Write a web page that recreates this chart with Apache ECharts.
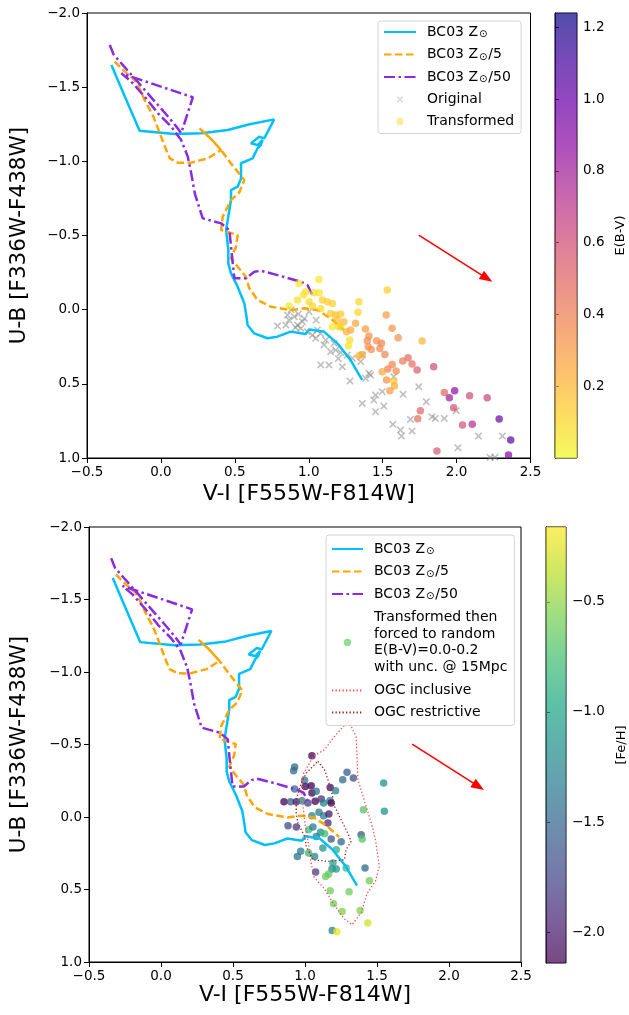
<!DOCTYPE html>
<html><head><meta charset="utf-8">
<script src="https://cdn.jsdelivr.net/npm/echarts@6/dist/echarts.min.js"></script>
<style>html,body{margin:0;padding:0;background:#fff}#c{width:629px;height:1015px}</style>
</head><body><div id="c"></div>
<script>
// ---------- data ----------
const xTicks = [-0.5, 0.0, 0.5, 1.0, 1.5, 2.0, 2.5];
const yTicks = [-2.0, -1.5, -1.0, -0.5, 0.0, 0.5, 1.0];
const ebvRange = [0.0, 1.24];
const ebvTicks = [0.2, 0.4, 0.6, 0.8, 1.0, 1.2];
const fehRange = [-2.14, -0.16];
const fehTicks = [-2.0, -1.5, -1.0, -0.5];

const trackSolar = [[-0.335,-1.649],[-0.25,-1.45],[-0.144,-1.206],[0.092,-1.184],[0.272,-1.189],[0.452,-1.211],[0.60,-1.25],[0.766,-1.283],[0.699,-1.155],[0.665,-1.166],[0.609,-1.121],[0.654,-1.110],[0.688,-1.144],[0.675,-1.11],[0.654,-1.088],[0.62,-1.02],[0.542,-0.987],[0.542,-0.885],[0.519,-0.829],[0.474,-0.806],[0.474,-0.739],[0.452,-0.604],[0.441,-0.537],[0.456,-0.402],[0.456,-0.312],[0.474,-0.245],[0.519,-0.155],[0.564,-0.043],[0.579,0.047],[0.586,0.103],[0.631,0.160],[0.721,0.193],[0.788,0.182],[0.878,0.148],[0.979,0.164],[1.002,0.133],[1.103,0.148],[1.193,0.227],[1.283,0.340],[1.361,0.474]];
const trackFifth = [[-0.313,-1.672],[-0.25,-1.61],[-0.178,-1.548],[-0.14,-1.48],[-0.11,-1.413],[-0.05,-1.30],[0.0,-1.17],[0.036,-1.076],[0.06,-1.02],[0.115,-0.991],[0.20,-0.99],[0.317,-1.020],[0.407,-1.076],[0.33,-1.16],[0.261,-1.222],[0.33,-1.16],[0.407,-1.076],[0.474,-0.986],[0.564,-0.874],[0.53,-0.79],[0.474,-0.739],[0.418,-0.627],[0.407,-0.537],[0.519,-0.503],[0.508,-0.424],[0.474,-0.346],[0.519,-0.289],[0.575,-0.222],[0.598,-0.144],[0.654,-0.065],[0.744,-0.020],[0.879,0.003],[0.969,-0.009],[1.059,0.003],[1.149,0.059],[1.238,0.138]];
const trackFiftieth = [[-0.346,-1.784],[-0.32,-1.72],[-0.25,-1.64],[-0.178,-1.56],[-0.10,-1.47],[-0.02,-1.38],[0.05,-1.30],[0.10,-1.24],[0.137,-1.19],[0.216,-1.432],[-0.267,-1.593],[-0.20,-1.537],[-0.11,-1.436],[-0.02,-1.324],[0.07,-1.233],[0.137,-1.144],[0.182,-1.031],[0.205,-0.919],[0.23,-0.78],[0.283,-0.616],[0.407,-0.582],[0.463,-0.537],[0.486,-0.312],[0.497,-0.211],[0.575,-0.211],[0.632,-0.256],[0.677,-0.262],[0.789,-0.233],[0.946,-0.188],[0.991,-0.166],[1.025,-0.099]];

const originalPts = [[0.789,0.110],[0.856,0.036],[0.867,0.070],[0.901,0.047],[0.845,0.104],[0.924,0.104],[0.946,0.126],[1.002,0.014],[0.957,0.081],[0.991,0.149],[1.025,0.171],[1.047,0.193],[1.058,0.137],[1.115,0.205],[1.103,0.238],[1.148,0.284],[1.182,0.272],[1.216,0.290],[1.171,0.227],[1.261,0.306],[1.295,0.328],[1.362,0.306],[1.081,0.373],[1.137,0.373],[1.227,0.385],[1.351,0.351],[1.407,0.429],[1.384,0.463],[1.279,0.481],[1.575,0.452],[1.744,0.519],[1.418,0.441],[1.638,0.571],[1.795,0.621],[1.452,0.576],[1.497,0.553],[1.440,0.609],[1.508,0.650],[1.452,0.688],[1.362,0.632],[1.834,0.722],[1.856,0.733],[1.917,0.733],[1.998,0.681],[1.688,0.740],[1.569,0.773],[1.620,0.812],[1.627,0.852],[1.699,0.818],[2.148,0.852],[2.310,0.852],[2.009,0.931],[2.227,0.996],[2.26,0.995],[0.88,0.0],[0.93,0.03],[0.97,0.06],[1.05,0.07],[0.91,0.12],[1.08,0.16],[1.20,0.33]];

// [V-I, U-B, E(B-V)]
const transformedPts = [[0.934,-0.177,0.06],[1.069,-0.204,0.05],[0.980,-0.121,0.08],[0.964,-0.099,0.07],[1.036,-0.114,0.09],[1.070,-0.114,0.06],[1.002,-0.054,0.08],[0.924,-0.065,0.07],[0.867,-0.024,0.05],[1.025,-0.024,0.10],[1.092,-0.065,0.12],[1.126,-0.054,0.13],[1.160,-0.042,0.12],[1.081,-0.007,0.09],[1.148,0.025,0.14],[1.182,0.036,0.16],[1.216,0.030,0.15],[1.193,0.070,0.18],[1.238,0.081,0.20],[1.283,0.137,0.24],[1.256,0.149,0.22],[1.216,0.115,0.12],[1.317,0.092,0.27],[1.339,-0.054,0.10],[1.333,0.018,0.11],[1.531,-0.132,0.12],[1.268,0.243,0.06],[1.277,0.205,0.08],[1.159,0.115,0.05],[1.204,0.115,0.10],[1.524,0.036,0.30],[1.564,0.126,0.32],[1.384,0.131,0.30],[1.407,0.178,0.33],[1.396,0.209,0.36],[1.459,0.209,0.34],[1.492,0.227,0.38],[1.481,0.261,0.37],[1.402,0.250,0.35],[1.423,0.268,0.34],[1.362,0.302,0.25],[1.339,0.313,0.22],[1.515,0.302,0.37],[1.605,0.189,0.33],[1.767,0.212,0.20],[1.672,0.324,0.48],[1.636,0.346,0.42],[1.699,0.367,0.47],[1.733,0.407,0.55],[1.564,0.369,0.38],[1.535,0.400,0.40],[1.497,0.418,0.25],[1.591,0.414,0.36],[1.526,0.474,0.33],[1.575,0.481,0.15],[1.580,0.515,0.24],[1.548,0.546,0.30],[1.845,0.385,0.62],[1.917,0.558,0.50],[1.987,0.546,0.88],[1.951,0.594,0.82],[2.088,0.580,0.60],[2.207,0.594,0.63],[1.980,0.661,0.58],[1.755,0.681,0.50],[1.737,0.735,0.48],[2.040,0.778,0.58],[2.106,0.773,0.75],[2.288,0.737,0.98],[2.366,0.879,1.05],[2.351,0.980,0.92],[1.867,0.953,0.55]];

// [V-I, U-B, [Fe/H]]
const forcedPts = [[1.048,-0.423,-2.2],[0.928,-0.345,-1.5],[0.921,-0.319,-1.45],[1.292,-0.308,-1.55],[1.262,-0.257,-1.45],[1.336,-0.269,-1.65],[1.546,-0.234,-1.15],[0.997,-0.253,-1.35],[0.928,-0.193,-1.4],[1.002,-0.211,-2.15],[1.043,-0.216,-2.25],[1.048,-0.165,-2.3],[1.078,-0.177,-1.4],[1.175,-0.204,-2.1],[1.212,-0.181,-1.3],[0.854,-0.105,-2.3],[0.900,-0.105,-1.55],[0.940,-0.105,-2.0],[0.979,-0.112,-1.3],[1.020,-0.096,-1.75],[1.071,-0.108,-2.2],[1.113,-0.124,-1.85],[1.129,-0.096,-1.3],[1.173,-0.112,-1.35],[1.182,-0.096,-2.2],[1.406,-0.050,-0.7],[1.551,-0.039,-1.15],[1.048,-0.009,-1.25],[1.097,-0.032,-1.35],[1.129,-0.009,-1.3],[1.166,-0.020,-2.0],[0.882,0.060,-1.7],[0.940,0.069,-1.8],[1.025,0.088,-0.8],[1.055,0.069,-1.3],[1.159,0.042,-1.9],[1.108,0.106,-1.2],[1.136,0.115,-0.8],[1.390,0.122,-1.6],[1.397,0.152,-0.7],[1.078,0.134,-1.3],[1.182,0.152,-1.6],[1.251,0.170,-1.5],[1.124,0.214,-1.1],[1.217,0.226,-0.9],[0.970,0.237,-1.3],[0.947,0.272,-1.4],[1.025,0.249,-0.8],[1.067,0.272,-1.2],[1.194,0.318,-1.0],[1.187,0.359,-1.2],[1.217,0.359,-1.1],[1.286,0.352,-0.8],[1.417,0.352,-1.5],[1.074,0.380,-1.8],[1.143,0.410,-0.6],[1.164,0.393,-0.65],[1.447,0.439,-0.6],[1.175,0.508,-0.6],[1.306,0.515,-0.6],[1.198,0.598,-0.6],[1.258,0.651,-0.55],[1.383,0.644,-0.55],[1.436,0.731,-0.3],[1.189,0.782,-1.3],[1.221,0.791,-0.22]];

const ogcInclusive = [[1.301,-0.664],[1.355,-0.556],[1.362,-0.40],[1.367,-0.26],[1.41,-0.12],[1.46,0.04],[1.49,0.16],[1.516,0.34],[1.49,0.44],[1.43,0.53],[1.39,0.66],[1.327,0.743],[1.27,0.70],[1.20,0.60],[1.13,0.49],[1.06,0.41],[1.04,0.30],[1.02,0.16],[1.0,0.05],[0.975,-0.19],[0.99,-0.30],[1.06,-0.42],[1.136,-0.464],[1.20,-0.55],[1.301,-0.664]];
const ogcRestrictive = [[1.089,-0.384],[1.136,-0.326],[1.182,-0.188],[1.205,-0.073],[1.251,0.019],[1.297,0.111],[1.320,0.168],[1.285,0.226],[1.274,0.295],[1.159,0.306],[1.055,0.295],[1.009,0.203],[0.997,0.134],[0.951,0.042],[0.939,-0.027],[0.939,-0.119],[0.974,-0.234],[1.009,-0.303],[1.089,-0.384]];

const reddeningStart = [1.744, -0.503];
const reddeningEnd = [2.205, -0.211];

const plasmaR = ['#f0f921','#fcce25','#fca636','#f2844b','#e16462','#cc4778','#b12a90','#8f0da4','#6a00a8','#41049d','#0d0887'];
const viridis = ['#440154','#482475','#414487','#355f8d','#2a788e','#21918c','#22a884','#44bf70','#7ad151','#bddf26','#fde725'];

// ---------- chart ----------
const FONT = 'DejaVu Sans';
const fmt = v => (v < 0 ? '\u2212' : '') + Math.abs(v).toFixed(1);
const stops = cols => cols.map((c, i) => ({offset: i / (cols.length - 1), color: c}));
const dotIcon = 'path://M0,0h0.01v0.01h-0.01zM20,20h0.01v0.01h-0.01zM15.3,10a5.3,5.3 0 1 1 -10.6,0a5.3,5.3 0 1 1 10.6,0z';
const xIcon = 'path://M0,0h0.01v0.01h-0.01zM16,16h0.01v0.01h-0.01zM4,5.4L5.4,4L8,6.6L10.6,4L12,5.4L9.4,8L12,10.6L10.6,12L8,9.4L5.4,12L4,10.6L6.6,8Z';
const xSym = 'path://M0,1.2L1.2,0L4,2.8L6.8,0L8,1.2L5.2,4L8,6.8L6.8,8L4,5.2L1.2,8L0,6.8L2.8,4Z';

const N1 = 'BC03 Z\u2299', N2 = 'BC03 Z\u2299/5', N3 = 'BC03 Z\u2299/50';
const NF = 'Transformed then\nforced to random\nE(B-V)=0.0-0.2\nwith unc. @ 15Mpc';
const noSym = {color: 'rgba(0,0,0,0)', opacity: 0, borderWidth: 0};

function mainX(gi, gap) {
  return {gridIndex: gi, type: 'value', min: xTicks[0], max: xTicks[xTicks.length-1], interval: 0.5,
    name: 'V-I [F555W-F814W]', nameLocation: 'middle', nameGap: gap,
    nameTextStyle: {fontFamily: FONT, fontSize: 22, color: '#000'},
    axisLine: {show: true, onZero: false, lineStyle: {color: '#000', width: 1}},
    axisTick: {show: true, length: 5, lineStyle: {color: '#000'}},
    axisLabel: {fontFamily: FONT, fontSize: 13.5, color: '#000', margin: 7, formatter: fmt},
    splitLine: {show: false}};
}
function mainY(gi, gap) {
  return {gridIndex: gi, type: 'value', inverse: true, min: yTicks[0], max: yTicks[yTicks.length-1], interval: 0.5,
    name: 'U-B [F336W-F438W]', nameLocation: 'middle', nameGap: gap,
    nameTextStyle: {fontFamily: FONT, fontSize: 21.5, color: '#000'},
    axisLine: {show: true, onZero: false, lineStyle: {color: '#000', width: 1}},
    axisTick: {show: true, length: 5, lineStyle: {color: '#000'}},
    axisLabel: {fontFamily: FONT, fontSize: 13.5, color: '#000', margin: 7, formatter: fmt},
    splitLine: {show: false}};
}
function cbY(gi, range, ticks, name, gap) {
  return {gridIndex: gi, type: 'value', position: 'right', min: range[0], max: range[1],
    name: name, nameLocation: 'middle', nameRotate: 90, nameGap: gap,
    nameTextStyle: {fontFamily: FONT, fontSize: 13, color: '#000'},
    axisLine: {show: true, lineStyle: {color: '#000'}},
    axisTick: {show: true, length: 4, customValues: ticks, lineStyle: {color: '#000'}},
    axisLabel: {fontFamily: FONT, fontSize: 13.5, color: '#000', margin: 6, customValues: ticks, formatter: fmt},
    splitLine: {show: false}};
}
function tracks(xi) {
  return [
    {name: N1, type: 'line', xAxisIndex: xi, yAxisIndex: xi, data: trackSolar, symbol: 'none', z: 3,
      lineStyle: {color: '#00bfff', width: 2.5}, itemStyle: {color: '#00bfff'}},
    {name: N2, type: 'line', xAxisIndex: xi, yAxisIndex: xi, data: trackFifth, symbol: 'none', z: 3,
      lineStyle: {color: '#ffa500', width: 2.5, type: [7.5, 3.5]}, itemStyle: {color: '#ffa500'}},
    {name: N3, type: 'line', xAxisIndex: xi, yAxisIndex: xi, data: trackFiftieth, symbol: 'none', z: 3,
      lineStyle: {color: '#8a2be2', width: 2.5, type: [11, 3.5, 2.5, 3.5]}, itemStyle: {color: '#8a2be2'}}
  ];
}
function arrow(xi) {
  return {type: 'line', xAxisIndex: xi, yAxisIndex: xi, data: [], z: 4,
    markLine: {silent: true, symbol: ['none', 'triangle'], symbolSize: [10, 13], animation: false,
      label: {show: false}, lineStyle: {color: '#ff0000', width: 1.6, type: 'solid'},
      data: [[{coord: reddeningStart}, {coord: reddeningEnd}]]}};
}
function colorbar(xi, range, cols) {
  return {type: 'custom', xAxisIndex: xi, yAxisIndex: xi, data: [[range[0], range[1]]], silent: true,
    renderItem: function (params, api) {
      const p1 = api.coord([0, api.value(0)]);
      const p2 = api.coord([1, api.value(1)]);
      return {type: 'rect', shape: {x: p1[0], y: p2[1], width: p2[0]-p1[0], height: p1[1]-p2[1]},
        style: {fill: new echarts.graphic.LinearGradient(0, 1, 0, 0, stops(cols)), opacity: 0.72}};
    }};
}

const legendText = {fontFamily: FONT, fontSize: 14, color: '#000', padding: [0, 0, 0, 6],
  rich: {s: {fontFamily: FONT, fontSize: 10, color: '#000', padding: [5, 1, 0, 1]}}};
const legendFmt = name => name.replace(/\u2299/g, '{s|\u2299}');

const option = {
  animation: false,
  backgroundColor: '#fff',
  grid: [
    {left: 85.5, top: 13, width: 445, height: 445, show: true, borderColor: '#000', borderWidth: 1},
    {left: 87, top: 527, width: 434, height: 435, show: true, borderColor: '#000', borderWidth: 1},
    {left: 555, top: 13, width: 22, height: 445, show: true, borderColor: '#000', borderWidth: 1},
    {left: 546, top: 527, width: 21, height: 436, show: true, borderColor: '#000', borderWidth: 1}
  ],
  xAxis: [mainX(0, 25), mainX(1, 21),
    {gridIndex: 2, type: 'value', min: 0, max: 1, show: false},
    {gridIndex: 3, type: 'value', min: 0, max: 1, show: false}],
  yAxis: [mainY(0, 57), mainY(1, 59),
    cbY(2, ebvRange, ebvTicks, 'E(B-V)', 37),
    cbY(3, fehRange, fehTicks, '[Fe/H]', 49)],
  visualMap: [
    {type: 'continuous', show: false, seriesIndex: 4, dimension: 2, min: ebvRange[0], max: ebvRange[1], inRange: {color: plasmaR}},
    {type: 'continuous', show: false, seriesIndex: 9, dimension: 2, min: fehRange[0], max: fehRange[1], inRange: {color: viridis}}
  ],
  legend: [
    {left: 378, top: 21, orient: 'vertical', itemWidth: 32, itemHeight: 14, itemGap: 8,
      padding: [4, 7, 5, 5], borderColor: '#d4d4d4', borderWidth: 1, borderRadius: 3,
      backgroundColor: 'rgba(255,255,255,0.85)', textStyle: legendText, formatter: legendFmt,
      selectedMode: false,
      data: [{name: N1, itemStyle: noSym}, {name: N2, itemStyle: noSym}, {name: N3, itemStyle: noSym},
        {name: 'Original', icon: xIcon, itemStyle: {color: '#bdbdbd'}},
        {name: 'Transformed', icon: dotIcon, itemStyle: {color: '#f7e56c'}}]},
    {left: 326, top: 535, orient: 'vertical', itemWidth: 31, itemHeight: 14, itemGap: 8,
      padding: [7, 7, 6, 5], borderColor: '#d4d4d4', borderWidth: 1, borderRadius: 3,
      backgroundColor: 'rgba(255,255,255,0.85)', textStyle: legendText, formatter: legendFmt,
      selectedMode: false,
      data: [{name: N1, itemStyle: noSym}, {name: N2, itemStyle: noSym}, {name: N3, itemStyle: noSym},
        {name: NF, icon: dotIcon, itemStyle: {color: '#72cf72'}, textStyle: {lineHeight: 16.5}},
        {name: 'OGC inclusive', itemStyle: noSym}, {name: 'OGC restrictive', itemStyle: noSym}]}
  ],
  series: [
    // 0 original
    {name: 'Original', type: 'scatter', xAxisIndex: 0, yAxisIndex: 0, data: originalPts, z: 2,
      symbol: xSym, symbolSize: 7.5, itemStyle: {color: '#808080', opacity: 0.5}},
    // 1-3 tracks top
    ...tracks(0),
    // 4 transformed
    {name: 'Transformed', type: 'scatter', xAxisIndex: 0, yAxisIndex: 0, data: transformedPts, z: 4,
      symbol: 'circle', symbolSize: 7.5, itemStyle: {color: '#f7e56c', opacity: 0.7}},
    // 5 arrow top
    arrow(0),
    // 6-8 tracks bottom
    ...tracks(1),
    // 9 forced
    {name: NF, type: 'scatter', xAxisIndex: 1, yAxisIndex: 1, data: forcedPts, z: 2,
      symbol: 'circle', symbolSize: 7.5, itemStyle: {color: '#72cf72', opacity: 0.75}},
    // 10-11 OGC
    {name: 'OGC inclusive', type: 'line', xAxisIndex: 1, yAxisIndex: 1, data: ogcInclusive, symbol: 'none', z: 3,
      lineStyle: {color: '#ff4d4d', width: 1.3, type: [1.3, 2.2]}, itemStyle: {color: '#ff4d4d'}},
    {name: 'OGC restrictive', type: 'line', xAxisIndex: 1, yAxisIndex: 1, data: ogcRestrictive, symbol: 'none', z: 3,
      lineStyle: {color: '#9e2020', width: 1.3, type: [1.3, 2.2]}, itemStyle: {color: '#9e2020'}},
    // 12 arrow bottom
    arrow(1),
    // 13-14 colorbars
    colorbar(2, ebvRange, plasmaR),
    colorbar(3, fehRange, viridis)
  ]
};

const chart = echarts.init(document.getElementById('c'), null, {renderer: 'canvas'});
chart.setOption(option);
</script>
</body></html>
